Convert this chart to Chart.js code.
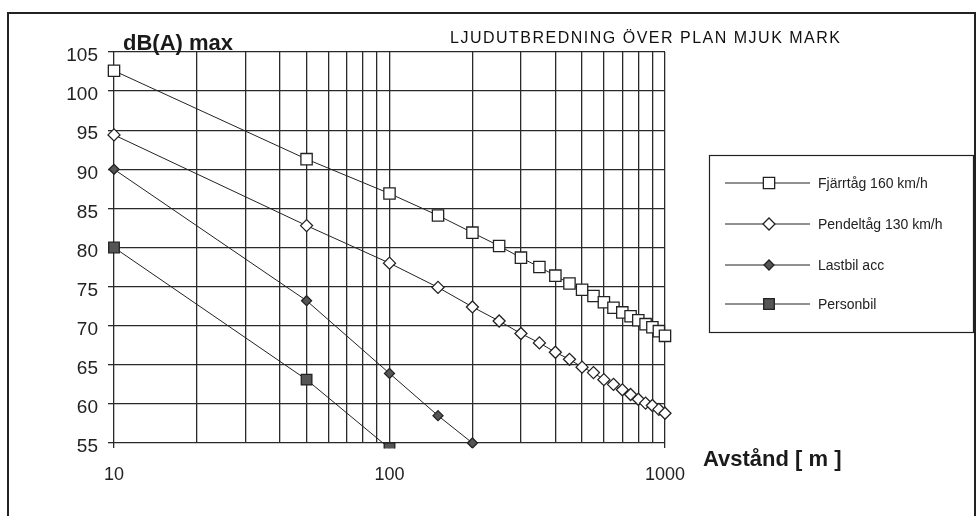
<!DOCTYPE html>
<html>
<head>
<meta charset="utf-8">
<script src="https://cdn.jsdelivr.net/npm/chart.js@4/dist/chart.umd.min.js"></script>
<style>
  body { margin: 0; background: #fff; }
</style>
</head>
<body>
<canvas id="myChart" width="976" height="516"></canvas>
<script>
// avstånd i meter (x) och dB(A) max (y)
const avstandTag = [10, 50, 100, 150, 200, 250, 300, 350, 400, 450, 500, 550, 600, 650, 700, 750, 800, 850, 900, 950, 1000];
const fjarrtag = [102.6, 91.3, 86.9, 84.1, 81.9, 80.2, 78.7, 77.5, 76.4, 75.4, 74.6, 73.8, 73.0, 72.3, 71.7, 71.2, 70.7, 70.2, 69.8, 69.3, 68.7];
const pendeltag = [94.4, 82.8, 78.0, 74.9, 72.4, 70.6, 69.0, 67.8, 66.6, 65.7, 64.7, 64.0, 63.1, 62.5, 61.8, 61.2, 60.6, 60.1, 59.8, 59.3, 58.8];

const avstandLastbil = [10, 50, 100, 150, 200];
const lastbil = [90.0, 73.2, 63.9, 58.5, 55.0];

const avstandPersonbil = [10, 50, 100];
const personbil = [80.0, 63.1, 54.3];

const xGrid = [10, 20, 30, 40, 50, 60, 70, 80, 90, 100, 200, 300, 400, 500, 600, 700, 800, 900, 1000];
const xLabels = [10, 100, 1000];
const serieNamn = ["Fjärrtåg 160 km/h", "Pendeltåg 130 km/h", "Lastbil acc", "Personbil"];

const FONT = "'Liberation Sans', Arial, sans-serif";
const punkter = (xs, ys) => xs.map((x, i) => ({ x: x, y: ys[i] }));

const serie = (namn, data, stil, radie, fyll) => ({
  label: namn,
  data: data,
  borderColor: "#222",
  borderWidth: 1,
  pointStyle: stil,
  pointRadius: radie,
  pointBackgroundColor: fyll,
  pointBorderColor: "#222",
  pointBorderWidth: 1.3,
  tension: 0,
  clip: { left: 12, top: 12, right: 12, bottom: 5.5 },
});

// ram, rubriker och förklaring
const dekor = {
  id: "dekor",
  afterDraw(chart) {
    const ctx = chart.ctx;
    ctx.save();
    ctx.strokeStyle = "#222";
    ctx.lineWidth = 2;
    ctx.beginPath();
    ctx.moveTo(8, 520);
    ctx.lineTo(8, 13);
    ctx.lineTo(975, 13);
    ctx.lineTo(975, 520);
    ctx.stroke();

    ctx.fillStyle = "#1a1a1a";
    ctx.textBaseline = "alphabetic";
    ctx.font = "bold 22px " + FONT;
    ctx.fillText("dB(A) max", 123, 50);
    ctx.fillText("Avstånd [ m ]", 703, 466);

    ctx.font = "16px " + FONT;
    ctx.letterSpacing = "1.5px";
    ctx.fillStyle = "#111";
    ctx.fillText("LJUDUTBREDNING ÖVER PLAN MJUK MARK", 450, 43);
    ctx.letterSpacing = "0px";

    // förklaringsruta
    ctx.strokeStyle = "#222";
    ctx.lineWidth = 1.2;
    ctx.strokeRect(709.5, 155.5, 264, 177);
    const rader = [183, 224, 265, 304];
    chart.data.datasets.forEach((ds, i) => {
      const y = rader[i];
      ctx.strokeStyle = "#222";
      ctx.lineWidth = 1;
      ctx.beginPath();
      ctx.moveTo(725, y);
      ctx.lineTo(810, y);
      ctx.stroke();
      ctx.fillStyle = ds.pointBackgroundColor;
      ctx.strokeStyle = ds.pointBorderColor;
      ctx.lineWidth = ds.pointBorderWidth;
      Chart.helpers.drawPoint(ctx, {
        pointStyle: ds.pointStyle,
        radius: ds.pointRadius,
        rotation: 0,
        borderWidth: ds.pointBorderWidth,
      }, 769, y);
      ctx.fillStyle = "#222";
      ctx.font = "14px " + FONT;
      ctx.textBaseline = "middle";
      ctx.fillText(ds.label, 818, y + 1);
    });
    ctx.restore();
  },
};

new Chart(document.getElementById("myChart"), {
  type: "line",
  data: {
    datasets: [
      serie(serieNamn[0], punkter(avstandTag, fjarrtag), "rect", 8, "#fff"),
      serie(serieNamn[1], punkter(avstandTag, pendeltag), "rectRot", 6, "#fff"),
      serie(serieNamn[2], punkter(avstandLastbil, lastbil), "rectRot", 5, "#555"),
      serie(serieNamn[3], punkter(avstandPersonbil, personbil), "rect", 7.5, "#555"),
    ],
  },
  options: {
    responsive: false,
    animation: false,
    layout: { padding: { left: 0, top: 52, right: 311, bottom: 0 } },
    plugins: {
      legend: { display: false },
      tooltip: { enabled: false },
    },
    scales: {
      x: {
        type: "logarithmic",
        min: 10,
        max: 1000,
        afterBuildTicks: (s) => { s.ticks = xGrid.map((v) => ({ value: v })); },
        afterFit: (s) => { s.height = 73; },
        ticks: {
          autoSkip: false,
          maxRotation: 0,
          padding: 16,
          color: "#222",
          font: { family: FONT, size: 18 },
          callback: (v) => (xLabels.includes(v) ? String(v) : ""),
        },
        grid: {
          color: "#2a2a2a",
          lineWidth: 1.3,
          tickLength: 5,
          tickColor: (c) => (c.tick && (c.tick.value === 10 || c.tick.value === 1000) ? "#2a2a2a" : "rgba(0,0,0,0)"),
        },
        border: { display: false },
      },
      y: {
        min: 55,
        max: 105,
        afterFit: (s) => { s.width = 114; },
        ticks: {
          stepSize: 5,
          padding: 10,
          labelOffset: 4,
          color: "#222",
          font: { family: FONT, size: 19 },
        },
        grid: { color: "#2a2a2a", lineWidth: 1.3, tickLength: 6 },
        border: { display: false },
      },
    },
  },
  plugins: [dekor],
});
</script>
</body>
</html>
